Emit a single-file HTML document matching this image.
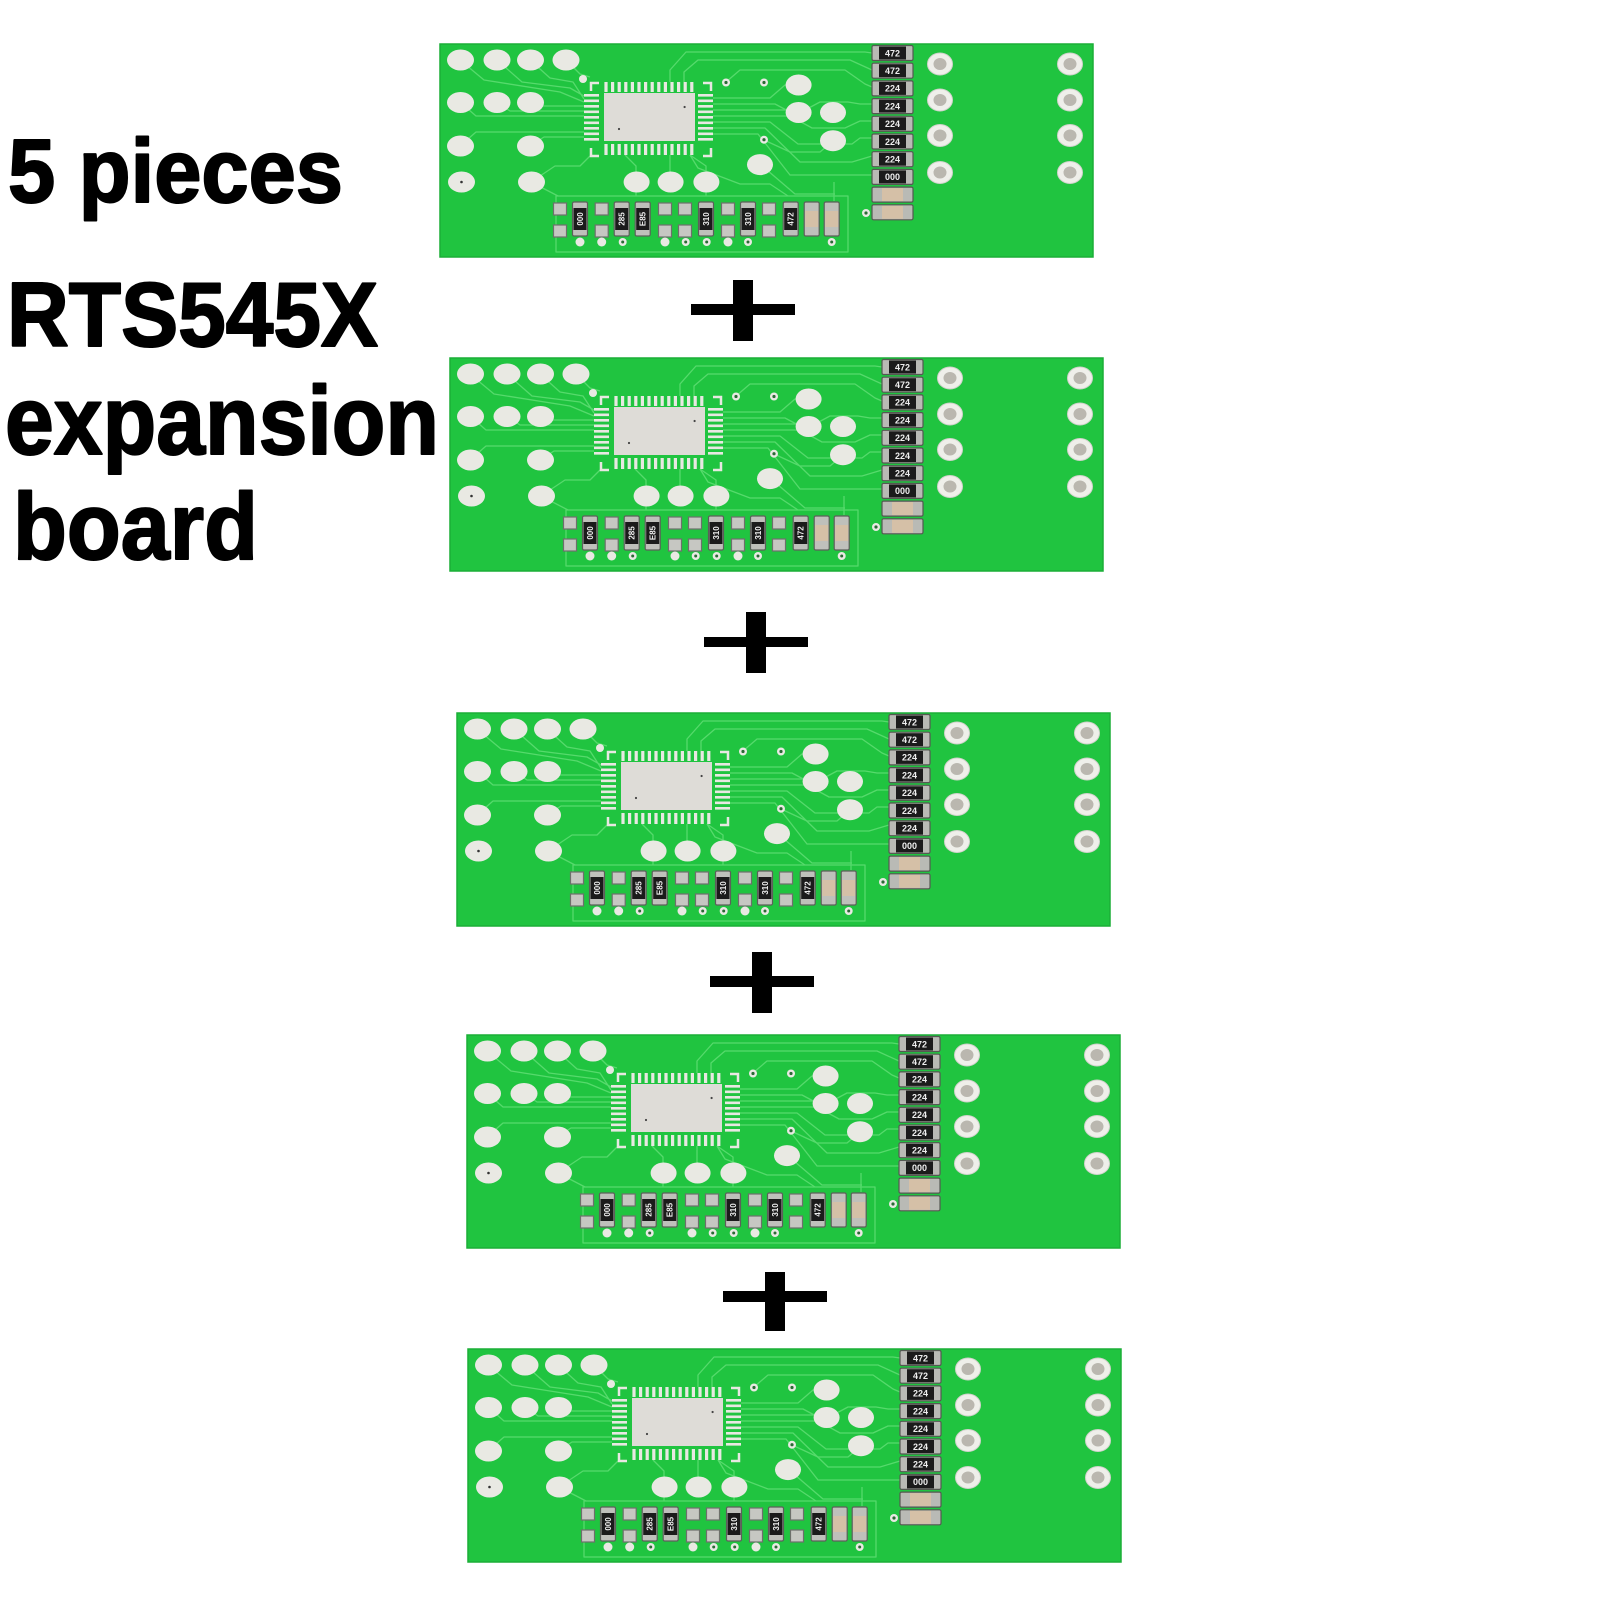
<!DOCTYPE html>
<html>
<head>
<meta charset="utf-8">
<style>
html,body{margin:0;padding:0;background:#fff;width:1600px;height:1600px;overflow:hidden}
svg{display:block}
</style>
</head>
<body>
<svg width="1600" height="1600" viewBox="0 0 1600 1600" xmlns="http://www.w3.org/2000/svg">
<defs>
<g id="bd">
  <rect x="0" y="0" width="653" height="213" fill="#20c440" stroke="#1aae37" stroke-width="1.5"/>
  <!-- traces -->
  <g fill="none" stroke="#56da6c" stroke-width="1.3" stroke-linejoin="round">
    <path d="M57,16 L82,38 L130,44 L144,52"/>
    <path d="M90,16 L110,34 L133,38 L144,55"/>
    <path d="M126,16 L140,30 L150,33"/>
    <path d="M20,16 L44,36 L120,48 L144,58"/>
    <path d="M20,58 L36,72 L144,72"/>
    <path d="M57,58 L70,67 L144,67"/>
    <path d="M90,58 L100,62 L144,62"/>
    <path d="M20,102 L36,88 L144,88"/>
    <path d="M90,102 L104,93 L144,93"/>
    <path d="M91,138 L115,122 L140,122 L150,112"/>
    <path d="M196,138 L196,122 L185,111"/>
    <path d="M230,138 L230,111"/>
    <path d="M266,138 L266,122 L250,111"/>
    <path d="M230,38 L230,26 L246,8 L425,8 L432,9"/>
    <path d="M244,38 L244,28 L258,16 L410,16 L432,26"/>
    <path d="M286,38 L300,26 L405,26 L425,40 L432,43"/>
    <path d="M273,54 L330,54 L345,41 L358,41"/>
    <path d="M273,60 L335,60 L350,68 L358,68"/>
    <path d="M273,66 L365,66 L380,58 L408,58 L420,60 L432,60"/>
    <path d="M273,72 L350,72 L372,84 L405,84 L420,77 L432,77"/>
    <path d="M273,78 L330,78 L358,100 L412,100 L420,94 L432,94"/>
    <path d="M273,84 L325,84 L360,118 L412,118 L432,112"/>
    <path d="M273,90 L318,90 L350,131 L432,131"/>
    <path d="M250,111 L258,124 L300,140 L330,140 L348,152"/>
    <path d="M324,96 L350,108 L380,108 L393,97"/>
    <path d="M320,120 L355,150 L395,150"/>
    <path d="M394,138 L394,157"/>
    <path d="M91,138 L118,152"/>
    <path d="M196,138 L196,152"/>
    <path d="M266,138 L266,152"/>
    <rect x="116" y="152" width="292" height="56"/>
  </g>
  <!-- left pads -->
  <g fill="#e9e9e3">
    <ellipse cx="20.5" cy="16" rx="13.5" ry="10.5"/>
    <ellipse cx="57" cy="16" rx="13.5" ry="10.5"/>
    <ellipse cx="90.5" cy="16" rx="13.5" ry="10.5"/>
    <ellipse cx="126" cy="16" rx="13.5" ry="10.5"/>
    <ellipse cx="20.5" cy="58.5" rx="13.5" ry="10.5"/>
    <ellipse cx="57" cy="58.5" rx="13.5" ry="10.5"/>
    <ellipse cx="90.5" cy="58.5" rx="13.5" ry="10.5"/>
    <ellipse cx="20.5" cy="102" rx="13.5" ry="10.5"/>
    <ellipse cx="90.5" cy="102" rx="13.5" ry="10.5"/>
    <ellipse cx="21.5" cy="138" rx="13.5" ry="10.5"/>
    <ellipse cx="91.5" cy="138" rx="13.5" ry="10.5"/>
    <circle cx="143" cy="35" r="4"/>
    <!-- big round pads -->
    <ellipse cx="358.6" cy="41" rx="13" ry="10.5"/>
    <ellipse cx="358.6" cy="68.5" rx="13" ry="10.5"/>
    <ellipse cx="393" cy="68.5" rx="13" ry="10.5"/>
    <ellipse cx="393" cy="96.7" rx="13" ry="10.5"/>
    <ellipse cx="320" cy="120.6" rx="13" ry="10.5"/>
    <ellipse cx="196.6" cy="138" rx="13" ry="10.5"/>
    <ellipse cx="230.6" cy="138" rx="13" ry="10.5"/>
    <ellipse cx="266.4" cy="138" rx="13" ry="10.5"/>
  </g>
  <circle cx="21.5" cy="138" r="1.3" fill="#333"/>
  <!-- chip -->
  <g stroke="#e8e8e2" fill="none">
    <line x1="164.4" y1="43" x2="254.6" y2="43" stroke-width="10" stroke-dasharray="3.2 3.4"/>
    <line x1="164.4" y1="105.5" x2="254.6" y2="105.5" stroke-width="11" stroke-dasharray="3.2 3.4"/>
    <line x1="151.5" y1="50" x2="151.5" y2="97" stroke-width="15" stroke-dasharray="2.6 2.9"/>
    <line x1="265.5" y1="50" x2="265.5" y2="97" stroke-width="15" stroke-dasharray="2.6 2.9"/>
    <path d="M151,47 L151,39 L159,39 M263,39 L271,39 L271,47 M151,104 L151,112 L159,112 M263,112 L271,112 L271,104" stroke-width="2.5"/>
  </g>
  <rect x="164" y="49" width="91" height="48" fill="#dedcd7"/>
  <circle cx="244.6" cy="63" r="1.1" fill="#444"/>
  <circle cx="179" cy="85" r="1.1" fill="#444"/>
  <!-- vias -->
  <g fill="#e9e9e3">
    <circle cx="286" cy="38.5" r="4"/>
    <circle cx="324" cy="38.5" r="4"/>
    <circle cx="324" cy="95.7" r="4"/>
    <circle cx="426" cy="169" r="4"/>
  </g>
  <g fill="#2a6b35">
    <circle cx="286" cy="38.5" r="1.6"/>
    <circle cx="324" cy="38.5" r="1.6"/>
    <circle cx="324" cy="95.7" r="1.6"/>
    <circle cx="426" cy="169" r="1.6"/>
  </g>
  <!-- through holes -->
  <g fill="#efefea" stroke="#d2d2cc" stroke-width="1">
    <ellipse cx="500" cy="20" rx="12.5" ry="11"/>
    <ellipse cx="500" cy="56" rx="12.5" ry="11"/>
    <ellipse cx="500" cy="91.5" rx="12.5" ry="11"/>
    <ellipse cx="500" cy="128.5" rx="12.5" ry="11"/>
    <ellipse cx="630" cy="20" rx="12.5" ry="11"/>
    <ellipse cx="630" cy="56" rx="12.5" ry="11"/>
    <ellipse cx="630" cy="91.5" rx="12.5" ry="11"/>
    <ellipse cx="630" cy="128.5" rx="12.5" ry="11"/>
  </g>
  <g fill="#bab7af">
    <ellipse cx="500" cy="20" rx="6.5" ry="6"/>
    <ellipse cx="500" cy="56" rx="6.5" ry="6"/>
    <ellipse cx="500" cy="91.5" rx="6.5" ry="6"/>
    <ellipse cx="500" cy="128.5" rx="6.5" ry="6"/>
    <ellipse cx="630" cy="20" rx="6.5" ry="6"/>
    <ellipse cx="630" cy="56" rx="6.5" ry="6"/>
    <ellipse cx="630" cy="91.5" rx="6.5" ry="6"/>
    <ellipse cx="630" cy="128.5" rx="6.5" ry="6"/>
  </g>
  <!-- resistor column -->
  <g stroke="#555852" stroke-width="1.2" fill="#b9bab5">
    <rect x="432" y="1.5" width="41" height="15" rx="1.5"/>
    <rect x="432" y="19.2" width="41" height="15" rx="1.5"/>
    <rect x="432" y="36.9" width="41" height="15" rx="1.5"/>
    <rect x="432" y="54.6" width="41" height="15" rx="1.5"/>
    <rect x="432" y="72.3" width="41" height="15" rx="1.5"/>
    <rect x="432" y="90" width="41" height="15" rx="1.5"/>
    <rect x="432" y="107.7" width="41" height="15" rx="1.5"/>
    <rect x="432" y="125.4" width="41" height="15" rx="1.5"/>
    <rect x="432" y="143.1" width="41" height="15" rx="1.5"/>
    <rect x="432" y="160.8" width="41" height="15" rx="1.5"/>
  </g>
  <g fill="#1b1b1b">
    <rect x="439" y="2.5" width="27" height="13"/>
    <rect x="439" y="20.2" width="27" height="13"/>
    <rect x="439" y="37.9" width="27" height="13"/>
    <rect x="439" y="55.6" width="27" height="13"/>
    <rect x="439" y="73.3" width="27" height="13"/>
    <rect x="439" y="91" width="27" height="13"/>
    <rect x="439" y="108.7" width="27" height="13"/>
    <rect x="439" y="126.4" width="27" height="13"/>
  </g>
  <g fill="#d5c0a7">
    <rect x="442" y="144.1" width="21" height="13"/>
    <rect x="442" y="161.8" width="21" height="13"/>
  </g>
  <g fill="#eeeeee" font-family="Liberation Sans, sans-serif" font-weight="bold" font-size="9" text-anchor="middle">
    <text x="452.5" y="12.3">472</text>
    <text x="452.5" y="30">472</text>
    <text x="452.5" y="47.7">224</text>
    <text x="452.5" y="65.4">224</text>
    <text x="452.5" y="83.1">224</text>
    <text x="452.5" y="100.8">224</text>
    <text x="452.5" y="118.5">224</text>
    <text x="452.5" y="136.2">000</text>
  </g>
  <!-- bottom strip pads -->
  <g fill="#c6c7c2" stroke="#6d706b" stroke-width="1.2">
    <rect x="113.5" y="159" width="13" height="12"/>
    <rect x="113.5" y="181" width="13" height="12"/>
    <rect x="155.2" y="159" width="13" height="12"/>
    <rect x="155.2" y="181" width="13" height="12"/>
    <rect x="218.5" y="159" width="13" height="12"/>
    <rect x="218.5" y="181" width="13" height="12"/>
    <rect x="238.5" y="159" width="13" height="12"/>
    <rect x="238.5" y="181" width="13" height="12"/>
    <rect x="281.5" y="159" width="13" height="12"/>
    <rect x="281.5" y="181" width="13" height="12"/>
    <rect x="322.5" y="159" width="13" height="12"/>
    <rect x="322.5" y="181" width="13" height="12"/>
  </g>
  <g fill="#bfc0bb" stroke="#5c5f5a" stroke-width="1.2">
    <rect x="132.5" y="158" width="15" height="34" rx="1.5"/>
    <rect x="174.2" y="158" width="15" height="34" rx="1.5"/>
    <rect x="195.2" y="158" width="15" height="34" rx="1.5"/>
    <rect x="258.5" y="158" width="15" height="34" rx="1.5"/>
    <rect x="300.5" y="158" width="15" height="34" rx="1.5"/>
    <rect x="343.2" y="158" width="15" height="34" rx="1.5"/>
    <rect x="364.2" y="158" width="15" height="34" rx="1.5"/>
    <rect x="384.2" y="158" width="15" height="34" rx="1.5"/>
  </g>
  <g fill="#1b1b1b">
    <rect x="133.5" y="164" width="13" height="22"/>
    <rect x="175.2" y="164" width="13" height="22"/>
    <rect x="196.2" y="164" width="13" height="22"/>
    <rect x="259.5" y="164" width="13" height="22"/>
    <rect x="301.5" y="164" width="13" height="22"/>
    <rect x="344.2" y="164" width="13" height="22"/>
  </g>
  <g fill="#d5c0a7">
    <rect x="365.2" y="167" width="13" height="16"/>
    <rect x="385.2" y="167" width="13" height="16"/>
  </g>
  <g fill="#eeeeee" font-family="Liberation Sans, sans-serif" font-weight="bold" font-size="8" text-anchor="middle">
    <text transform="translate(143,175) rotate(-90)">000</text>
    <text transform="translate(184.7,175) rotate(-90)">285</text>
    <text transform="translate(205.7,175) rotate(-90)">E85</text>
    <text transform="translate(269,175) rotate(-90)">310</text>
    <text transform="translate(311,175) rotate(-90)">310</text>
    <text transform="translate(353.7,175) rotate(-90)">472</text>
  </g>
  <!-- strip vias -->
  <g fill="#e9e9e3">
    <circle cx="140" cy="198" r="4.5"/>
    <circle cx="161.7" cy="198" r="4.5"/>
    <circle cx="225" cy="198" r="4.5"/>
    <circle cx="288" cy="198" r="4.5"/>
    <circle cx="182.7" cy="198" r="4"/>
    <circle cx="245.7" cy="198" r="4"/>
    <circle cx="266.7" cy="198" r="4"/>
    <circle cx="308" cy="198" r="4"/>
    <circle cx="391.7" cy="198" r="4"/>
  </g>
  <g fill="#2a6b35">
    <circle cx="182.7" cy="198" r="1.5"/>
    <circle cx="245.7" cy="198" r="1.5"/>
    <circle cx="266.7" cy="198" r="1.5"/>
    <circle cx="308" cy="198" r="1.5"/>
    <circle cx="391.7" cy="198" r="1.5"/>
  </g>
</g>
</defs>

<rect x="0" y="0" width="1600" height="1600" fill="#ffffff"/>

<!-- title text -->
<g font-family="Liberation Sans, Arial, sans-serif" font-weight="bold" fill="#000" stroke="#000" stroke-width="2" stroke-linejoin="round">
  <text x="8" y="202" font-size="90" textLength="335" lengthAdjust="spacingAndGlyphs">5 pieces</text>
  <text x="7" y="346" font-size="91" textLength="371" lengthAdjust="spacingAndGlyphs">RTS545X</text>
  <text x="5" y="454" font-size="97" textLength="434" lengthAdjust="spacingAndGlyphs">expansion</text>
  <text x="13" y="559" font-size="95" textLength="245" lengthAdjust="spacingAndGlyphs">board</text>
</g>

<!-- boards -->
<use href="#bd" x="440" y="44"/>
<use href="#bd" x="450" y="358"/>
<use href="#bd" x="457" y="713"/>
<use href="#bd" x="467" y="1035"/>
<use href="#bd" x="468" y="1349"/>

<!-- plus signs -->
<g fill="#000">
  <rect x="691" y="304" width="104" height="11"/>
  <rect x="733" y="280" width="20" height="61"/>
  <rect x="704" y="637" width="104" height="10"/>
  <rect x="746" y="612" width="20" height="61"/>
  <rect x="710" y="976" width="104" height="11"/>
  <rect x="752" y="952" width="20" height="61"/>
  <rect x="723" y="1291" width="104" height="11"/>
  <rect x="765" y="1272" width="20" height="59"/>
</g>
</svg>
</body>
</html>
